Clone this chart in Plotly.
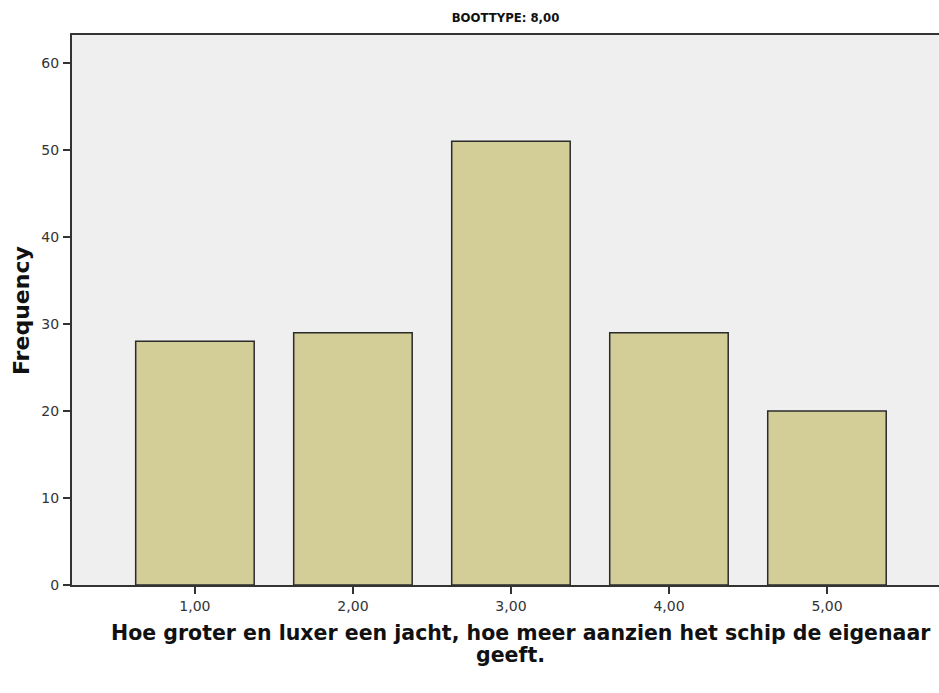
import plotly.graph_objects as go

categories = ["1,00", "2,00", "3,00", "4,00", "5,00"]
positions = [1, 2, 3, 4, 5]
frequencies = [28, 29, 51, 29, 20]
y_ticks = [0, 10, 20, 30, 40, 50, 60]

x_title_line1 = "Hoe groter en luxer een jacht, hoe meer aanzien het schip de eigenaar"
x_title_line2 = "geeft."
y_title = "Frequency"
chart_title = "BOOTTYPE: 8,00"

fig = go.Figure(go.Bar(
    x=positions, y=frequencies, width=0.75,
    marker=dict(color="#D3CE97", line=dict(color="#2b2b2b", width=1.5)),
))

bold_font = "DejaVu Sans, Verdana, sans-serif"

fig.update_layout(
    width=939, height=693,
    margin=dict(l=72, r=0, t=35, b=108),
    paper_bgcolor="white", plot_bgcolor="#EFEFEF",
    showlegend=False,
    font=dict(family="Liberation Sans, Arial, sans-serif", color="#222"),
    title=dict(text="<b>" + chart_title + "</b>", x=0.5, xref="paper", xanchor="center",
               y=1 - 17 / 693, yref="container", yanchor="middle",
               font=dict(family="Liberation Sans Narrow, Arial Narrow, DejaVu Sans Condensed, Liberation Sans",
                         size=13, color="#111")),
    annotations=[
        dict(text="<b>" + x_title_line1 + "</b>", xref="paper", yref="paper",
             x=(521 - 72) / 867, y=-48 / 550, xanchor="center", yanchor="middle",
             showarrow=False, font=dict(family=bold_font, size=20.5, color="#111")),
        dict(text="<b>" + x_title_line2 + "</b>", xref="paper", yref="paper",
             x=(510 - 72) / 867, y=-70 / 550, xanchor="center", yanchor="middle",
             showarrow=False, font=dict(family=bold_font, size=20.5, color="#111")),
        dict(text="<b>" + y_title + "</b>", xref="paper", yref="paper",
             x=(21 - 72) / 867, y=(585 - 311) / 550, xanchor="center", yanchor="middle",
             textangle=-90, showarrow=False, font=dict(family=bold_font, size=22, color="#111")),
    ],
)
tick_font = dict(family="DejaVu Sans, Verdana, sans-serif", size=14, color="#333")
fig.update_xaxes(
    range=[0.222, 5.709], tickmode="array", tickvals=positions, ticktext=categories,
    showline=True, linecolor="#333", linewidth=2, mirror=True,
    ticks="outside", ticklen=7, tickcolor="#333", tickwidth=1.5,
    showgrid=False, zeroline=False, automargin=False,
    tickfont=tick_font,
)
fig.update_yaxes(
    range=[0, 63.2], tickmode="array", tickvals=y_ticks,
    showline=True, linecolor="#333", linewidth=2,
    ticks="outside", ticklen=7, tickcolor="#333", tickwidth=1.5,
    showgrid=False, zeroline=False, automargin=False,
    tickfont=tick_font, ticklabelstandoff=1,
)

fig.write_html("out.html", config={"displayModeBar": False},
               post_script="document.body.style.margin='0';")
